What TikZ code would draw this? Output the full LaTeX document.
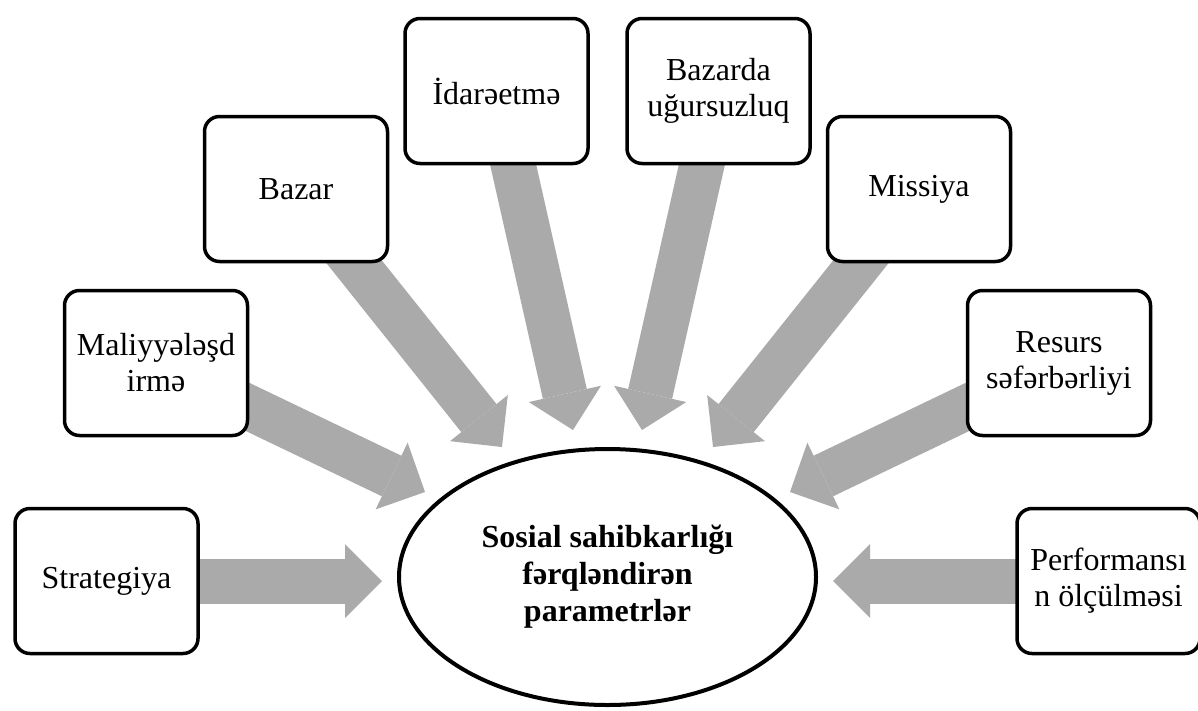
\documentclass[tikz,border=0pt]{standalone}
\usepackage{fontspec}
\setmainfont{Liberation Serif}
\usetikzlibrary{arrows.meta,shapes.geometric,backgrounds}
\definecolor{arrowgray}{RGB}{170,170,170}

\begin{document}
\begin{tikzpicture}[x=1pt, y=-1pt,
        box/.style={draw, line width=3.5pt, rounded corners=15pt, fill=white, minimum width=183pt, minimum height=145pt, inner sep=0pt, align=center, font=\fontsize{32}{36}\selectfont},
        hub/.style={draw, ellipse, line width=4pt, fill=white, minimum width=417pt, minimum height=256pt, inner sep=0pt, align=center, font=\fontsize{32}{37}\selectfont\bfseries},
        bigarrow/.style={draw=arrowgray, line width=45pt, -{Triangle[width=74pt 0 0, length=37pt 0 0, line width=0pt]}}
    ]
        \useasboundingbox (0,0) rectangle (1198,710);

        % Central ellipse
        \node[hub] (hub) at (607.5,577) {Sosial sahibkarlığı\\fərqləndirən\\parametrlər};

        % Parameter boxes
        \node[box] (strat) at (106.5,581) {Strategiya};
        \node[box] (maliyye) at (156,363) {Maliyyələşd\\irmə};
        \node[box] (bazar) at (296,189) {Bazar};
        \node[box] (idare) at (496.5,91) {İdarəetmə};
        \node[box] (ugursuz) at (718.5,91) {Bazarda\\uğursuzluq};
        \node[box] (missiya) at (919,189) {Missiya};
        \node[box] (resurs) at (1059,363) {Resurs\\səfərbərliyi};
        \node[box] (perf) at (1108.5,581) {Performansı\\n ölçülməsi};

        % Arrow tips near the ellipse
        \coordinate (tstrat) at (382,581);
        \coordinate (tmaliyye) at (425,492);
        \coordinate (tbazar) at (502,447);
        \coordinate (tidare) at (573,430);
        \coordinate (tugursuz) at (642,430);
        \coordinate (tmissiya) at (713,447);
        \coordinate (tresurs) at (790,492);
        \coordinate (tperf) at (833,581);

        % Arrows into the centre
        \begin{scope}[on background layer]
            \draw[bigarrow] (strat.center) -- (tstrat);
            \draw[bigarrow] (maliyye.center) -- (tmaliyye);
            \draw[bigarrow] (bazar.center) -- (tbazar);
            \draw[bigarrow] (idare.center) -- (tidare);
            \draw[bigarrow] (ugursuz.center) -- (tugursuz);
            \draw[bigarrow] (missiya.center) -- (tmissiya);
            \draw[bigarrow] (resurs.center) -- (tresurs);
            \draw[bigarrow] (perf.center) -- (tperf);
        \end{scope}
    \end{tikzpicture}
\end{document}
